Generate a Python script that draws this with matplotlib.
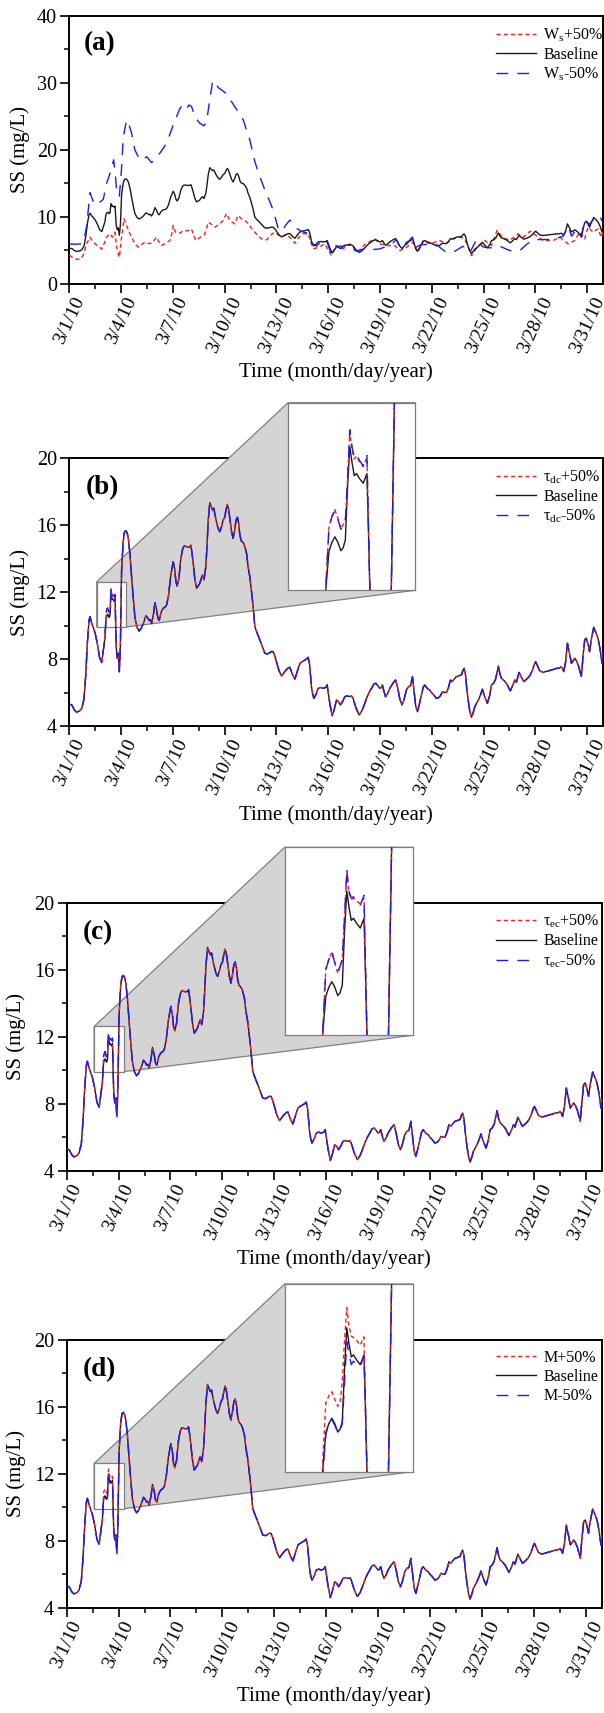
import numpy as np
import matplotlib
matplotlib.use("Agg")
import matplotlib.pyplot as plt
from matplotlib.patches import Polygon, Rectangle
from matplotlib.lines import Line2D
from matplotlib.ticker import FixedLocator, MultipleLocator

plt.rcParams['font.family'] = ['Liberation Serif', 'DejaVu Serif']
plt.rcParams['mathtext.fontset'] = 'custom'
plt.rcParams['mathtext.rm'] = 'Liberation Serif'
plt.rcParams['mathtext.it'] = 'Liberation Serif:italic'

# ---------------- data ----------------
tick_days = [0, 3, 6, 9, 12, 15, 18, 21, 24, 27, 30]
tick_labels = ['3/1/10', '3/4/10', '3/7/10', '3/10/10', '3/13/10', '3/16/10',
               '3/19/10', '3/22/10', '3/25/10', '3/28/10', '3/31/10']

# baseline SS (mg/L), days since 3/1/10 00:00 -- before zoom window
pre_days = [0.0, 0.15, 0.30, 0.43, 0.60, 0.72, 0.85, 0.95, 1.05, 1.14, 1.20, 1.28, 1.38,
            1.49, 1.62, 1.75, 1.88, 1.97, 2.03]
pre_base = [5.31, 5.25, 4.95, 4.82, 4.9, 5.06, 5.6, 7.0, 9.0, 10.3, 10.53, 10.2, 9.9,
            9.57, 8.94, 8.1, 7.78, 8.5, 8.95]

# zoom window (where the sensitivity runs differ)
win_days = [2.07, 2.10, 2.14, 2.18, 2.22, 2.26, 2.30, 2.33, 2.36, 2.39, 2.42, 2.45, 2.48,
            2.51, 2.55, 2.60, 2.65, 2.67, 2.69, 2.72]
win_base = [9.3, 9.95, 10.47, 10.6, 10.68, 10.6, 10.48, 10.52, 10.63, 11.40, 11.98, 11.75,
            11.56, 11.59, 11.52, 11.45, 11.59, 10.8, 9.9, 8.7]
win_tdc_plus = [9.3, 10.0, 10.82, 10.98, 11.07, 10.95, 10.80, 10.85, 10.92, 11.50, 12.19,
                11.95, 11.80, 11.84, 11.76, 11.69, 11.82, 10.9, 9.9, 8.7]
win_tdc_minus = [9.3, 10.0, 10.80, 10.97, 11.05, 10.93, 10.79, 10.84, 10.90, 11.50, 12.22,
                 11.97, 11.82, 11.86, 11.78, 11.70, 11.85, 10.9, 9.9, 8.7]
win_tec_plus = [9.3, 10.0, 10.87, 11.0, 11.10, 10.95, 10.80, 10.9, 11.0, 11.6, 12.22,
                11.95, 11.86, 11.88, 11.84, 11.80, 11.88, 10.9, 9.9, 8.7]
win_tec_minus = [9.3, 10.0, 10.85, 11.0, 11.12, 10.95, 10.82, 10.9, 11.0, 11.6, 12.30,
                 11.98, 11.88, 11.90, 11.83, 11.78, 11.92, 10.9, 9.9, 8.7]
win_m_plus = [9.3, 10.1, 10.90, 11.0, 11.06, 10.95, 10.85, 10.9, 11.21, 11.8, 12.27,
              12.0, 11.86, 11.84, 11.80, 11.73, 11.85, 10.9, 9.9, 8.7]
win_m_minus = [9.3, 9.9, 10.45, 10.6, 10.66, 10.58, 10.47, 10.5, 10.6, 11.2, 11.78,
               11.6, 11.45, 11.5, 11.45, 11.42, 11.58, 10.8, 9.9, 8.7]

# baseline after zoom window
post_days = [2.78, 2.84, 2.90, 2.96, 3.03, 3.12, 3.20, 3.28, 3.36, 3.42,
             3.52, 3.61, 3.70, 3.80, 3.92, 4.04, 4.15, 4.29, 4.44, 4.55,
             4.63, 4.70, 4.77, 4.88, 4.96, 5.05, 5.13, 5.21, 5.32, 5.44,
             5.55, 5.64, 5.75, 5.88, 6.02, 6.10, 6.18, 6.25, 6.35, 6.45,
             6.55, 6.63, 6.70, 6.80, 6.89, 6.97, 7.04, 7.10, 7.18, 7.27,
             7.37, 7.46, 7.56, 7.64, 7.72, 7.80, 7.91, 7.98, 8.05, 8.14,
             8.22, 8.30, 8.37, 8.50, 8.62, 8.72, 8.82, 8.91, 9.00, 9.08,
             9.15, 9.22, 9.30, 9.40, 9.49, 9.58, 9.66, 9.74, 9.81, 9.88,
             9.96, 10.03, 10.10, 10.17, 10.27, 10.36, 10.46, 10.56, 10.65, 10.75,
             10.90, 11.04, 11.20, 11.33, 11.48, 11.62, 11.72, 11.81, 11.90, 12.00,
             12.15, 12.30, 12.45, 12.59, 12.70, 12.78, 12.92, 13.07, 13.22, 13.36,
             13.50, 13.65, 13.75, 13.84, 13.92, 14.03, 14.10, 14.17, 14.30, 14.42,
             14.56, 14.71, 14.85, 14.94, 15.00, 15.10, 15.23, 15.35, 15.48, 15.60,
             15.71, 15.85, 15.96, 16.10, 16.25, 16.35, 16.44, 16.60, 16.79, 16.95,
             17.10, 17.22, 17.37, 17.51, 17.64, 17.76, 17.88, 17.99, 18.07, 18.14,
             18.22, 18.32, 18.45, 18.57, 18.75, 18.90, 18.97, 19.05, 19.15, 19.28,
             19.40, 19.53, 19.65, 19.77, 19.88, 19.97, 20.07, 20.17, 20.28, 20.40,
             20.50, 20.59, 20.70, 20.79, 20.88, 20.98, 21.12, 21.27, 21.40, 21.50,
             21.62, 21.75, 21.85, 21.97, 22.08, 22.18, 22.30, 22.43, 22.58, 22.72,
             22.80, 22.87, 22.95, 23.03, 23.11, 23.20, 23.30, 23.40, 23.49, 23.62,
             23.74, 23.84, 23.93, 24.05, 24.22, 24.35, 24.46, 24.58, 24.70, 24.80,
             24.86, 24.95, 25.04, 25.20, 25.35, 25.55, 25.68, 25.81, 25.90, 25.98,
             26.06, 26.20, 26.33, 26.50, 26.67, 26.82, 26.95, 27.02, 27.12, 27.25,
             27.45, 27.70, 27.93, 28.10, 28.22, 28.38, 28.50, 28.58, 28.64, 28.75,
             28.86, 28.95, 29.09, 29.20, 29.28, 29.38, 29.50, 29.60, 29.67, 29.75,
             29.86, 29.95, 30.05, 30.14, 30.25, 30.38, 30.50, 30.63, 30.75, 30.86,
             30.92]
post_base = [8.05, 8.35, 7.24, 8.8, 13.3, 15.0, 15.6, 15.66, 15.5, 15.2,
             14.2, 12.9, 11.7, 10.5, 9.9, 9.67, 9.8, 10.12, 10.59, 10.45,
             10.3, 10.35, 10.12, 10.7, 11.36, 11.0, 10.45, 10.3, 10.8, 11.03,
             11.1, 11.23, 11.8, 13.0, 13.81, 13.4, 12.6, 12.36, 12.8, 13.9,
             14.5, 14.72, 14.75, 14.7, 14.67, 14.7, 14.8, 14.4, 13.7, 12.8,
             12.22, 12.35, 12.52, 12.8, 13.02, 12.72, 13.5, 14.8, 16.3, 17.33,
             17.1, 16.9, 17.0, 16.3, 15.8, 15.6, 15.9, 16.3, 16.45, 16.9,
             17.23, 17.0, 16.4, 15.6, 15.2, 15.7, 16.3, 16.46, 16.1, 15.4,
             15.05, 15.0, 14.9, 14.7, 14.3, 13.5, 12.9, 12.0, 11.12, 9.93,
             9.5, 9.14, 8.7, 8.34, 8.3, 8.38, 8.45, 8.44, 8.2, 7.84,
             7.3, 6.99, 7.2, 7.38, 7.48, 7.5, 7.1, 6.79, 7.3, 7.74,
             7.85, 7.94, 8.0, 8.1, 7.7, 6.35, 5.9, 5.65, 5.9, 6.25,
             6.3, 6.25, 6.3, 6.45, 6.0, 5.3, 4.6, 5.0, 5.55, 5.45,
             5.25, 5.5, 5.75, 5.8, 5.75, 5.8, 5.65, 5.1, 4.66, 4.9,
             5.3, 5.65, 6.0, 6.25, 6.5, 6.55, 6.4, 6.25, 6.3, 6.45,
             6.1, 5.75, 5.95, 6.25, 6.55, 6.75, 6.5, 6.15, 5.6, 5.25,
             5.6, 6.15, 6.35, 6.4, 6.95, 6.1, 5.2, 4.85, 5.3, 5.85,
             6.3, 6.45, 6.3, 6.2, 6.15, 6.0, 5.85, 5.65, 5.7, 5.8,
             6.05, 6.0, 6.0, 6.3, 6.75, 6.65, 6.8, 6.95, 7.0, 7.05,
             7.3, 7.44, 7.1, 6.2, 5.55, 4.9, 4.52, 4.8, 5.15, 5.4,
             5.65, 5.9, 6.2, 5.8, 5.35, 5.8, 6.45, 6.55, 6.8, 7.3,
             7.58, 7.1, 6.85, 6.7, 6.5, 6.1, 6.4, 6.75, 6.6, 6.9,
             7.2, 6.9, 6.65, 6.8, 6.99, 7.3, 7.7, 7.84, 7.6, 7.3,
             7.2, 7.28, 7.34, 7.4, 7.44, 7.45, 7.54, 7.4, 7.24, 7.8,
             8.94, 8.5, 7.74, 7.9, 8.05, 7.9, 7.6, 7.2, 6.95, 8.0,
             9.14, 9.24, 8.9, 8.44, 9.2, 9.89, 9.6, 9.24, 8.6, 7.74,
             8.5]

# panel (a): settling velocity runs
ws_plus_days = [0.0, 0.2, 0.43, 0.65, 0.81, 0.92, 1.0, 1.2, 1.35, 1.5,
                1.7, 1.88, 2.05, 2.16, 2.36, 2.5, 2.64, 2.72, 2.78, 2.90,
                2.97, 3.03, 3.17, 3.28, 3.45, 3.61, 3.80, 3.99, 4.2, 4.38,
                4.55, 4.77, 4.95, 5.06, 5.2, 5.35, 5.6, 5.83, 5.95, 6.02,
                6.15, 6.41, 6.6, 6.85, 7.08, 7.2, 7.33, 7.6, 7.85, 8.05,
                8.2, 8.45, 8.7, 8.9, 9.11, 9.3, 9.59, 9.78, 9.98, 10.17,
                10.37, 10.55, 10.75, 10.95, 11.14, 11.43, 11.71, 11.9, 12.1, 12.3,
                12.55, 12.8, 13.07, 13.3, 13.55, 13.84, 14.13, 14.45, 14.8, 15.19,
                15.45, 15.85, 16.25, 16.7, 17.15, 17.7, 17.99, 18.4, 18.85, 19.15,
                19.5, 19.9, 20.2, 20.5, 20.88, 21.46, 21.85, 22.24, 22.72, 23.0,
                23.3, 23.7, 24.08, 24.46, 24.78, 25.1, 25.5, 26.0, 26.3, 26.7,
                27.05, 27.45, 28.03, 28.42, 28.9, 29.28, 29.57, 29.86, 30.05, 30.34,
                30.63, 30.82, 30.92]
ws_plus_vals = [4.29, 3.9, 3.64, 3.7, 4.29, 5.2, 5.95, 6.95, 6.3, 5.95,
                5.5, 5.2, 6.2, 6.95, 7.45, 6.95, 7.7, 6.0, 4.95, 3.95,
                5.5, 6.95, 9.69, 8.94, 7.8, 6.95, 6.0, 5.45, 5.9, 6.2,
                6.0, 6.05, 6.6, 6.95, 6.2, 5.7, 6.1, 6.45, 7.6, 8.7,
                7.7, 7.55, 7.95, 7.9, 8.2, 7.3, 6.45, 6.95, 7.4, 9.2,
                8.94, 8.45, 8.94, 9.4, 10.5, 9.45, 8.94, 10.2, 9.7, 9.45,
                9.0, 8.3, 7.7, 7.1, 6.7, 6.55, 7.35, 7.7, 7.3, 6.95,
                7.35, 6.9, 6.05, 6.95, 7.45, 7.45, 5.2, 5.45, 5.95, 4.2,
                5.7, 5.2, 5.95, 4.7, 5.95, 6.7, 5.95, 5.7, 5.7, 4.95,
                5.35, 6.2, 4.7, 6.45, 5.95, 6.45, 6.05, 6.7, 6.95, 6.2,
                4.2, 5.7, 6.45, 5.7, 7.95, 6.95, 6.45, 7.45, 6.95, 7.85,
                7.2, 6.45, 6.45, 6.95, 5.95, 6.45, 7.7, 6.7, 8.45, 7.7,
                8.2, 6.95, 7.95]
ws_minus_days = [0.0, 0.4, 0.73, 0.85, 1.0, 1.2, 1.39, 1.58, 1.78, 1.97,
                 2.16, 2.36, 2.57, 2.66, 2.74, 2.90, 3.02, 3.13, 3.32, 3.45,
                 3.61, 3.80, 4.09, 4.30, 4.48, 4.77, 5.00, 5.25, 5.64, 6.02,
                 6.41, 6.56, 6.79, 6.92, 7.08, 7.28, 7.55, 7.80, 7.95, 8.11,
                 8.30, 8.38, 8.63, 9.11, 9.40, 9.98, 10.08, 10.46, 10.75, 11.04,
                 11.33, 11.62, 11.81, 12.10, 12.30, 12.55, 12.78, 13.17, 13.45, 13.74,
                 14.03, 14.32, 14.71, 14.95, 15.19, 15.5, 16.06, 16.64, 17.22, 17.60,
                 17.99, 18.4, 18.76, 18.95, 19.15, 19.53, 19.82, 20.0, 20.40, 20.88,
                 21.27, 21.75, 22.24, 22.81, 23.20, 23.59, 23.97, 24.36, 24.94, 25.52,
                 26.10, 26.48, 26.87, 27.26, 28.03, 28.61, 28.9, 29.1, 29.37, 29.67,
                 29.86, 30.14, 30.44, 30.73, 30.92]
ws_minus_vals = [5.93, 5.9, 5.97, 6.5, 8.52, 13.6, 12.25, 11.7, 12.2, 12.6,
                 15.0, 16.5, 18.5, 16.5, 14.0, 13.0, 17.0, 21.96, 24.46, 23.8,
                 22.47, 19.98, 18.5, 18.6, 18.98, 18.09, 18.8, 19.5, 21.0, 23.71,
                 26.2, 26.6, 26.0, 26.7, 26.5, 24.9, 24.0, 23.6, 24.1, 27.0,
                 30.2, 30.35, 29.3, 28.4, 27.2, 24.9, 24.46, 21.47, 18.23, 16.0,
                 14.0, 12.25, 11.0, 8.27, 7.78, 8.8, 9.5, 8.27, 7.8, 7.6,
                 6.1, 5.6, 6.6, 6.1, 4.3, 5.6, 5.6, 4.85, 5.35, 5.1,
                 5.2, 5.6, 6.1, 6.6, 5.35, 5.85, 6.85, 5.35, 5.85, 5.85,
                 5.85, 4.85, 4.7, 5.6, 4.6, 6.6, 5.5, 5.35, 5.6, 4.95,
                 4.95, 5.85, 6.6, 6.6, 6.6, 7.1, 8.6, 7.1, 8.1, 7.1,
                 9.6, 8.85, 9.85, 10.1, 9.1]

# zoom box extent (data coords)
zoom_x = [1.59, 3.30]
zoom_y = [9.91, 12.61]

# ---------------- assemble ----------------
days_all = np.concatenate([pre_days, win_days, post_days])
def full(win_vals):
    return np.concatenate([pre_base, win_vals, post_base])
baseline = full(win_base)

# ---------------- figure ----------------
W, H = 604, 1713
fig = plt.figure(figsize=(W / 100, H / 100), dpi=100)

def px_axes(l, t, r, b):
    return fig.add_axes([l / W, 1 - b / H, (r - l) / W, (b - t) / H])

RED, BLACK, BLUE = '#ff1a1a', '#1a1a1a', '#1a1aff'
LW = 1.0
RED_DASH = (3.0, 2.2)
BLUE_DASH = (8.5, 6.5)

def style_axes(ax, ylim, ymaj, ymin, ylab_x):
    ax.set_xlim(0, 30.92)
    ax.set_ylim(*ylim)
    ax.xaxis.set_major_locator(FixedLocator(tick_days))
    ax.xaxis.set_minor_locator(MultipleLocator(1.5))
    ax.set_xticklabels(tick_labels, rotation=65, ha='center')
    ax.yaxis.set_major_locator(MultipleLocator(ymaj))
    ax.yaxis.set_minor_locator(MultipleLocator(ymin))
    ax.tick_params(which='major', direction='out', length=6.5, width=1.2,
                   labelsize=14, top=False, right=False)
    ax.tick_params(which='minor', direction='out', length=3.6, width=1.1,
                   top=False, right=False)
    ax.tick_params(axis='x', which='major', pad=1)
    ax.tick_params(axis='y', which='major', pad=2.5, labelsize=14.5)
    for s in ax.spines.values():
        s.set_linewidth(1.4)
    ax.set_ylabel('SS (mg/L)', fontsize=15)
    ax.yaxis.set_label_coords(ylab_x, 0.5)
    ax.set_xlabel('Time (month/day/year)', fontsize=15)
    ax.xaxis.set_label_coords(0.5, -0.295)

def add_legend(ax, labels, xa):
    handles = [Line2D([], [], color=RED, lw=LW, dashes=RED_DASH),
               Line2D([], [], color=BLACK, lw=LW),
               Line2D([], [], color=BLUE, lw=LW, dashes=BLUE_DASH)]
    ax.legend(handles, labels, loc='upper left', bbox_to_anchor=(xa, 0.962),
              frameon=False, fontsize=11.5, handlelength=2.5, handletextpad=0.45,
              labelspacing=0.2, borderpad=0, borderaxespad=0)

def plot_runs(ax, plus, minus):
    ax.plot(days_all, baseline, color=BLACK, lw=LW, zorder=3)
    ax.plot(days_all, plus, color=RED, lw=LW, dashes=RED_DASH, zorder=3.1)
    ax.plot(days_all, minus, color=BLUE, lw=LW, dashes=BLUE_DASH, zorder=3.2)

# ----- panel (a)
pa = (69.3, 16.0, 603.0, 283.7)
axa = px_axes(*pa)
axa.plot(ws_plus_days, ws_plus_vals, color=RED, lw=LW, dashes=RED_DASH, zorder=3)
axa.plot(days_all, baseline, color=BLACK, lw=LW, zorder=3.1)
axa.plot(ws_minus_days, ws_minus_vals, color=BLUE, lw=LW, dashes=BLUE_DASH, zorder=3.2)
style_axes(axa, (0, 40), 10, 5, -0.0736)
axa.text(0.0275, 0.897, '(a)', transform=axa.transAxes, fontsize=19.5,
         fontweight='bold', ha='left', va='center')
add_legend(axa, [r'W$_\mathrm{s}$+50%', 'Baseline', r'W$_\mathrm{s}$-50%'],
           (496 - pa[0]) / (pa[2] - pa[0]))

# ----- panels (b)-(d)
panels = [
    dict(main=(69.3, 458.0, 603.0, 726.0), inset=(288.0, 402.7, 415.3, 590.3),
         tag='(b)', plus=win_tdc_plus, minus=win_tdc_minus, ylx=-0.0736,
         labels=[r'τ$_\mathrm{dc}$+50%', 'Baseline', r'τ$_\mathrm{dc}$-50%']),
    dict(main=(66.6, 902.7, 602.0, 1170.7), inset=(284.7, 847.3, 412.6, 1035.3),
         tag='(c)', plus=win_tec_plus, minus=win_tec_minus, ylx=-0.0758,
         labels=[r'τ$_\mathrm{ec}$+50%', 'Baseline', r'τ$_\mathrm{ec}$-50%']),
    dict(main=(66.6, 1339.7, 602.0, 1607.7), inset=(284.7, 1284.0, 412.6, 1471.7),
         tag='(d)', plus=win_m_plus, minus=win_m_minus, ylx=-0.0758,
         labels=['M+50%', 'Baseline', 'M-50%']),
]

for p in panels:
    l, t, r, b = p['main']
    ax = px_axes(l, t, r, b)
    plus = full(p['plus'])
    minus = full(p['minus'])
    plot_runs(ax, plus, minus)
    style_axes(ax, (4, 20), 4, 2, p['ylx'])
    ax.text(0.03, 0.888, p['tag'], transform=ax.transAxes, fontsize=19.5,
            fontweight='bold', ha='left', va='center')
    add_legend(ax, p['labels'], (496 - l) / (r - l))

    # zoom rectangle
    x0, x1 = zoom_x
    y0, y1 = zoom_y
    ax.add_patch(Rectangle((x0, y0), x1 - x0, y1 - y0, facecolor='white',
                           edgecolor='#7f7f7f', lw=0.9, zorder=2.7))
    # connector polygon (figure fraction)
    tl = ax.transData.transform((x0, y1))
    br = ax.transData.transform((x1, y0))
    bl = ax.transData.transform((x0, y0))
    il, it, ir, ib = p['inset']
    verts_px = [tl, (il, H - it), (ir, H - it), (ir, H - ib), br, bl]
    verts = [(vx / W, vy / H) for vx, vy in verts_px]
    poly = Polygon(verts, closed=True, facecolor='#d4d4d4', edgecolor='#7f7f7f',
                   lw=0.9, transform=fig.transFigure, zorder=2.55)
    ax.add_artist(poly)
    poly.set_clip_on(False)

    # inset axes
    ins = px_axes(il, it, ir, ib)
    ins.set_facecolor('white')
    plot_runs(ins, plus, minus)
    ins.set_xlim(x0, x1)
    ins.set_ylim(y0, y1)
    ins.set_xticks([])
    ins.set_yticks([])
    for s in ins.spines.values():
        s.set_color('#7f7f7f')
        s.set_linewidth(0.9)

fig.savefig('out.png', dpi=100)
